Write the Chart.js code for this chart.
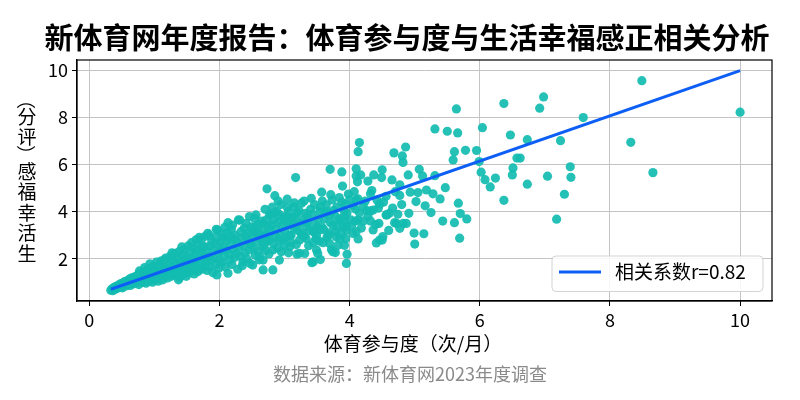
<!DOCTYPE html>
<html>
<head>
<meta charset="utf-8">
<script src="https://cdn.jsdelivr.net/npm/chart.js@4.4.1/dist/chart.umd.min.js"></script>
<style>
  html, body { margin: 0; padding: 0; background: #fff; }
</style>
</head>
<body>
<canvas id="myChart" width="800" height="400"></canvas>
<script>
// Texts
const chartTitle = '新体育网年度报告：体育参与度与生活幸福感正相关分析';
const xTitle = '体育参与度（次/月）';
const yTitle = '生活幸福感（评分）';
const sourceNote = '数据来源：新体育网2023年度调查';
const fitLabel = '相关系数r=0.82';

// Axis ticks
const xTicks = [0, 2, 4, 6, 8, 10];
const yTicks = [2, 4, 6, 8, 10];

// Survey responses [participation, happiness] - dense low range
const coreSample = [
  [0.33,0.66],[0.35,0.72],[0.36,0.64],[0.38,0.78],[0.40,0.70],[0.41,0.82],[0.43,0.74],[0.44,0.86],[0.46,0.78],[0.47,0.92],
  [0.49,0.82],[0.50,0.95],[0.51,0.76],[0.53,0.88],[0.54,1.02],[0.56,0.84],[0.57,0.97],[0.59,1.08],[0.60,0.90],[0.62,1.14],
  [0.63,0.86],[0.65,1.01],[0.66,1.20],[0.68,0.93],[0.69,1.10],
  [0.71,1.25],[0.72,0.98],[0.74,1.15],[0.75,1.32],[0.76,0.90],[0.78,1.05],[0.79,1.38],[0.80,1.20],[0.82,1.00],[0.83,1.44],
  [0.84,1.12],[0.86,1.28],[0.87,0.96],[0.88,1.52],[0.90,1.18],[0.91,1.35],[0.92,1.05],[0.94,1.60],[0.95,1.25],[0.96,1.42],
  [0.97,1.00],[0.99,1.68],[1.00,1.30],[1.01,1.12],[1.02,1.50],[1.03,1.85],[0.98,1.15],[0.85,1.62],[0.77,1.48],[0.93,1.78],
  [1.05,1.38],[1.06,1.04],[1.08,1.62],[1.09,1.22],[1.10,1.90],[1.12,1.45],[1.13,1.10],[1.14,1.72],[1.16,1.30],[1.17,2.02],
  [1.18,1.55],[1.20,1.18],[1.21,1.80],[1.22,1.42],[1.24,2.10],[1.25,1.65],[1.26,1.25],[1.28,1.95],[1.29,1.50],[1.30,1.31],
  [1.31,2.22],[1.33,1.75],[1.34,1.40],[1.35,2.05],[1.36,1.60],[1.38,2.30],[1.39,1.20],[1.40,1.85],[1.41,1.48],[1.43,2.15],
  [1.44,1.70],[1.45,1.35],[1.46,2.40],[1.47,1.95],[1.48,1.55],[1.49,1.25],[1.15,1.95],[1.27,2.25],[1.37,1.10],[1.42,2.50],
  [1.50,2.05],[1.51,1.62],[1.52,2.55],[1.53,1.40],[1.54,1.85],[1.55,2.30],[1.56,1.50],[1.57,2.68],[1.58,2.00],[1.59,1.72],
  [1.60,2.45],[1.61,1.35],[1.62,2.15],[1.63,1.90],[1.64,2.80],[1.65,1.60],[1.66,2.35],[1.67,1.45],[1.68,2.60],[1.69,2.91],
  [1.70,1.80],[1.71,2.20],[1.72,2.80],[1.73,1.55],[1.74,2.48],[1.75,2.05],[1.76,1.70],[1.77,2.51],[1.78,2.95],[1.79,1.80],
  [1.80,2.30],[1.81,1.50],[1.82,3.08],[1.83,2.10],[1.84,3.00],[1.85,1.65],[1.86,2.55],[1.87,1.95],[1.88,2.75],[1.90,1.40],
  [1.91,2.40],[1.92,2.00],[1.93,2.90],[1.94,1.75],[1.95,2.65],[1.95,3.25],[1.96,1.31],[1.97,3.22],[1.98,2.25],[1.99,1.60],
  [2.00,1.94],[2.01,2.70],[2.02,2.35],[2.03,3.05],[2.04,1.85],[2.05,2.50],[2.06,2.90],[2.07,2.10],[2.08,3.33],[2.09,1.65],
  [2.10,2.37],[2.11,2.78],[2.12,3.10],[2.13,1.38],[2.13,3.53],[2.14,2.20],[2.15,2.94],[2.16,1.95],[2.17,2.60],[2.18,3.25],
  [2.19,1.75],[2.20,3.43],[2.21,2.40],[2.22,2.85],[2.23,2.05],[2.24,3.00],[2.26,2.23],[2.27,2.70],[2.28,1.55],[2.29,3.65],
  [2.30,2.50],[2.31,3.64],[2.32,2.10],[2.33,3.15],[2.34,2.85],[2.35,1.70],[2.36,1.87],[2.37,2.55],[2.38,3.30],[2.39,2.25],
  [2.40,2.95],[2.41,3.50],[2.42,2.00],[2.44,2.75],[2.45,3.10],[2.46,2.37],[2.46,3.79],[2.47,1.80],[2.48,2.60],[2.49,3.35],
  [2.51,1.73],[2.51,3.22],[2.52,2.45],[2.53,2.90],[2.54,3.71],[2.55,2.15],[2.56,3.86],[2.57,2.70],[2.58,3.05],[2.59,2.30],
  [2.60,3.45],[2.61,1.95],[2.62,2.08],[2.63,2.85],[2.64,2.95],[2.65,3.60],[2.66,2.50],[2.67,1.52],[2.67,1.94],[2.67,3.50],
  [2.68,3.20],[2.69,2.60],[2.70,4.10],[2.71,2.35],[2.72,3.00],[2.73,4.97],[2.74,2.75],[2.75,3.35],[2.76,2.20],[2.77,2.79],
  [2.77,3.86],[2.78,3.10],[2.79,3.90],[2.80,3.43],[2.81,4.19],[2.82,1.52],[2.82,2.37],[2.83,2.65],[2.84,3.65],[2.85,4.68],
  [2.86,2.95],[2.87,3.25],[2.88,4.00],[2.89,2.45],[2.90,3.55],[2.91,2.80],[2.92,1.94],[2.92,3.07],[2.93,3.86],[2.94,4.30],
  [2.95,2.30],[2.96,3.40],[2.97,2.79],[2.98,3.75],[2.99,2.55],[2.85,3.95],[2.72,3.65],[2.60,3.10],[2.90,4.45],[2.55,3.35]
];

// Survey responses - middle range
const midSample = [
  [3.00,3.20],[3.02,2.90],[3.05,3.55],[3.10,3.00],[3.12,3.75],[3.15,3.30],[3.18,2.60],[3.20,3.95],[3.25,3.10],[3.28,3.65],
  [3.30,2.95],[3.35,3.80],[3.38,3.20],[3.40,4.10],[3.45,3.45],[3.48,2.85],[3.52,3.70],[3.55,4.20],[3.60,3.25],[3.62,3.95],
  [3.65,2.90],[3.70,3.55],[3.75,4.05],[3.78,3.15],[3.85,3.70],[3.88,4.40],[3.90,3.35],[3.96,3.95],[4.02,3.65],[4.05,4.25],
  [3.70,5.80],[3.88,5.69],[3.17,5.45],[3.89,5.09],[3.93,4.32],[3.92,3.60],[3.95,3.21],[3.92,2.57],[3.96,2.19],[3.78,2.26],
  [3.72,2.39],[3.55,1.96],[3.42,1.83],[3.51,2.22],[3.59,2.68],[3.44,2.68],[3.31,2.22],[3.19,2.19],[3.06,2.25],[3.08,2.51],
  [3.44,3.15],[3.57,3.36],[3.74,3.43],[3.83,3.65],[3.69,3.86],[3.54,4.01],[3.32,3.93],[3.16,3.79],[3.03,3.79],[3.41,4.57],
  [3.57,4.83],[3.71,4.72],[3.15,4.37],[3.04,4.53],[3.26,4.36],[3.64,4.29],[3.80,4.19],[3.33,3.36],[3.20,3.21],[3.08,3.00],
  [3.23,2.79],[3.49,3.00],[3.67,3.00],[3.79,2.93],[3.82,2.57],[3.23,3.50],[3.08,3.43],[3.04,4.19],[3.23,2.23],[3.33,2.86],
  [3.12,3.50],[3.54,3.22],[3.69,2.65],[3.49,2.37],[3.74,2.30],[3.85,2.86],[3.95,3.36],[4.05,3.07],[3.92,3.79],[4.13,3.64],
  [3.95,1.80],[3.44,1.87],[4.00,4.51],[4.13,4.54],[4.09,4.11],[4.26,4.04],[4.32,4.03],[4.21,4.22],[4.36,4.07],[4.10,4.50],
  [3.02,3.60],[3.06,4.00],[3.10,2.70],[3.14,4.20],[3.18,3.40],[3.22,4.05],[3.27,3.00],[3.30,4.45],[3.34,3.55],[3.37,2.55],
  [3.42,3.90],[3.46,4.30],[3.50,3.35],[3.53,2.75],[3.58,4.45],[3.61,3.70],[3.66,4.00],[3.68,3.10],[3.73,4.50],[3.77,3.85],
  [3.81,3.35],[3.84,4.60],[3.87,3.05],[3.91,4.05],[3.94,2.85],[3.98,4.75],[4.03,3.40],[4.07,4.85],[4.15,3.95],[4.18,3.30],
  [4.24,4.45],[4.28,3.80],[4.34,4.90],[4.40,3.45],[4.44,4.15],[4.52,4.40],[4.60,3.20],[4.66,4.15],[4.70,4.85],[4.80,4.30]
];

// Survey responses - high range
const highSample = [
  [4.15,6.94],[4.13,6.55],[4.86,6.75],[4.68,6.50],[4.81,6.37],[4.82,6.09],[4.10,5.82],[4.10,5.52],[4.17,5.56],[4.12,5.27],
  [4.28,5.30],[4.37,5.56],[4.50,5.78],[4.49,5.45],[4.65,5.35],[4.90,5.56],[5.07,5.80],[5.12,5.52],[5.31,5.53],[4.77,5.14],
  [4.93,4.83],[5.05,4.81],[5.18,4.92],[5.47,5.02],[4.77,4.69],[4.32,4.76],[4.42,4.50],[4.46,4.32],[4.56,3.86],[4.74,3.89],
  [4.91,3.93],[4.82,3.50],[4.77,3.29],[4.69,3.53],[4.87,3.50],[4.99,3.09],[5.14,3.06],[5.00,2.62],[5.25,3.96],[5.39,4.54],
  [5.28,4.76],[5.16,4.25],[5.02,4.43],[5.67,4.36],[5.70,3.92],[5.80,3.69],[5.61,3.53],[5.43,3.60],[5.69,2.87],[4.45,3.50],
  [4.32,3.60],[4.21,3.60],[4.09,3.60],[4.13,2.84],[4.10,3.15],[4.41,2.67],[4.50,2.79],[4.46,2.79],[4.51,2.94],[4.36,3.22],
  [4.61,3.93],[4.72,3.50],[4.56,4.65],[4.57,3.86],
  [5.64,8.37],[6.37,8.60],[5.31,7.52],[5.50,7.42],[5.66,7.35],[6.04,7.57],[6.47,7.26],[5.61,6.55],[5.59,6.20],[5.78,6.61],
  [5.95,6.60],[5.99,6.13],[6.02,5.68],[6.08,5.36],[6.24,5.43],[6.16,5.05],[6.37,4.48],[6.51,5.86],[6.50,5.56],[6.57,6.28],
  [8.49,9.57],[10.00,8.23],[6.98,8.88],[6.92,8.40],[7.59,8.00],[6.73,7.06],[7.24,7.02],[8.32,6.95],[7.39,5.91],[7.40,5.46],
  [7.04,5.51],[6.73,5.17],[7.30,4.74],[8.66,5.66],[7.18,3.68],[6.62,6.28]
];

// Fitted trend line end points
const fitX = [0.33, 10.0];
const fitY = [0.70, 10.0];

const toPoints = arr => arr.map(p => ({ x: p[0], y: p[1] }));
const allSamples = coreSample.concat(midSample, highSample);

const FONT = "'Noto Sans CJK SC', 'Noto Sans', sans-serif";
const lineBlue = '#0d5ef5';

// draws frame, titles, stacked y label and legend box
const decorPlugin = {
  id: 'decor',
  afterDraw(chart) {
    const { ctx, chartArea: a } = chart;
    ctx.save();
    ctx.strokeStyle = '#000';
    ctx.lineWidth = 1.2;
    ctx.strokeRect(a.left, a.top, a.right - a.left, a.bottom - a.top);

    ctx.fillStyle = '#000';
    ctx.textAlign = 'center';
    ctx.textBaseline = 'middle';
    ctx.font = 'bold 29px ' + FONT;
    ctx.fillText(chartTitle, 407, 38);

    ctx.font = '19px ' + FONT;
    ctx.fillText(xTitle, 413, 344);

    ctx.fillStyle = '#8a8a8a';
    ctx.font = '18px ' + FONT;
    ctx.fillText(sourceNote, 410, 374);

    // y title: upright characters stacked bottom to top
    ctx.fillStyle = '#000';
    ctx.font = '19px ' + FONT;
    let cur = 264;
    for (const ch of Array.from(yTitle)) {
      const paren = ch === '（' || ch === '）';
      const adv = paren ? 14 : 20.5;
      const cy = cur - adv / 2;
      if (paren) {
        ctx.save();
        ctx.translate(27, cy);
        ctx.rotate(-Math.PI / 2);
        ctx.fillText(ch, 0, 0);
        ctx.restore();
      } else {
        ctx.fillText(ch, 27, cy);
      }
      cur -= adv;
    }

    // legend
    const bx = a.right - 220, by = a.bottom - 45, bw = 211, bh = 35.5;
    ctx.beginPath();
    ctx.roundRect(bx, by, bw, bh, 4);
    ctx.fillStyle = 'rgba(255,255,255,0.85)';
    ctx.fill();
    ctx.strokeStyle = '#d3d3d3';
    ctx.lineWidth = 1;
    ctx.stroke();
    ctx.beginPath();
    ctx.moveTo(bx + 7, by + 16);
    ctx.lineTo(bx + 49, by + 16);
    ctx.strokeStyle = lineBlue;
    ctx.lineWidth = 3;
    ctx.stroke();
    ctx.fillStyle = '#000';
    ctx.textAlign = 'left';
    ctx.font = '19px ' + FONT;
    ctx.fillText(fitLabel, bx + 63, by + 16);
    ctx.restore();
  }
};

const ctx = document.getElementById('myChart').getContext('2d');
const myChart = new Chart(ctx, {
  type: 'scatter',
  data: {
    datasets: [
      {
        type: 'line',
        label: fitLabel,
        data: fitX.map((x, i) => ({ x: x, y: fitY[i] })),
        borderColor: lineBlue,
        borderWidth: 3,
        pointRadius: 0,
        fill: false
      },
      {
        label: '受访者',
        data: toPoints(allSamples),
        backgroundColor: 'rgba(18,188,176,0.92)',
        borderWidth: 0,
        pointRadius: 4.6
      }
    ]
  },
  options: {
    responsive: false,
    animation: false,
    layout: { padding: { top: 60, right: 28, left: 0, bottom: 0 } },
    plugins: {
      legend: { display: false },
      title: { display: false },
      tooltip: { enabled: false }
    },
    scales: {
      x: {
        type: 'linear',
        min: -0.19,
        max: 10.49,
        afterBuildTicks: s => { s.ticks = xTicks.map(v => ({ value: v })); },
        afterFit: s => { s.height = 99; },
        grid: { color: '#c4c4c4', lineWidth: 1, tickColor: '#000', tickLength: 5 },
        border: { color: '#000', width: 1.2 },
        ticks: { color: '#000', font: { size: 18, family: FONT }, padding: 3, maxRotation: 0 }
      },
      y: {
        type: 'linear',
        min: 0.2,
        max: 10.45,
        afterBuildTicks: s => { s.ticks = yTicks.map(v => ({ value: v })); },
        afterFit: s => { s.width = 77; },
        grid: { color: '#c4c4c4', lineWidth: 1, tickColor: '#000', tickLength: 5 },
        border: { color: '#000', width: 1.2 },
        ticks: { color: '#000', font: { size: 18, family: FONT }, padding: 4 }
      }
    }
  },
  plugins: [decorPlugin]
});
</script>
</body>
</html>
